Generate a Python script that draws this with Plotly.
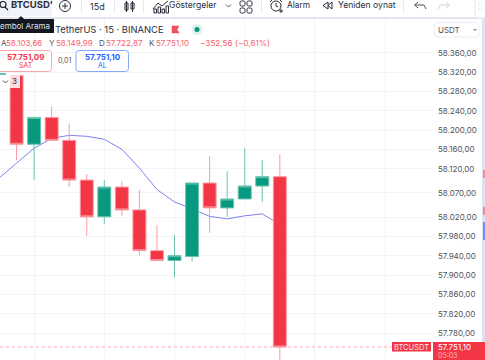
import plotly.graph_objects as go

W, H = 485, 360

# ---- data ----
bar_index = list(range(17))
open_ = [58300, 58312.7, 58170.7, 58226.3, 58178.9, 58096.6, 58020.5, 58082.2, 58034.9, 57950.5, 57930,
         57938.2, 58090.5, 58039, 58057.5, 58084.3, 58103.66]
high = [58317, 58312.7, 58226.3, 58248.9, 58213.9, 58109, 58096.6, 58094.6, 58076, 58004, 57983.5,
        58090.5, 58146, 58115, 58162.5, 58137.8, 58149.99]
low = [58300, 58137.8, 58096.6, 58178.9, 58082.2, 57981.4, 58006, 58022.6, 57940.2, 57930, 57895,
       57927.9, 57987.6, 58020.5, 58057.5, 58051.4, 57722.87]
close = [58317, 58170.7, 58226.3, 58178.9, 58096.6, 58020.5, 58082.2, 58034.9, 57950.5, 57930, 57940.2,
         58090.5, 58039, 58057.5, 58084.3, 58103.66, 57751.10]
ma = [58100.7, 58131.6, 58162.5, 58183, 58189.2, 58187.2, 58181, 58160.4, 58121.3, 58077, 58051.4,
      58037, 58021.5, 58016.4, 58022.6, 58026.7, 58004]
tick_values = [58360, 58320, 58280, 58240, 58200, 58160, 58120, 58070, 58020, 57980, 57940, 57900, 57860, 57820, 57780]
tick_labels = ["58.360,00", "58.320,00", "58.280,00", "58.240,00", "58.200,00", "58.160,00", "58.120,00", "58.070,00",
               "58.020,00", "57.980,00", "57.940,00", "57.900,00", "57.860,00", "57.820,00", "57.780,00"]
x_grid = [2, 6, 10, 14, 18, 22]
last_price = 57751.10

RED, GREEN = "#f23645", "#089981"
FONT = "Inter"
x_range = [0.057, 24.67]
y_range = [57724.2, 58430]

fig = go.Figure()
fig.add_trace(go.Scatter(x=bar_index, y=ma, mode="lines", line=dict(color="#8080f2", width=1),
                         hoverinfo="skip", showlegend=False))
fig.add_trace(go.Candlestick(x=bar_index, open=open_, high=high, low=low, close=close,
                             xaxis="x2", yaxis="y2", whiskerwidth=0, showlegend=False,
                             increasing=dict(line=dict(color="#6cc4ae", width=1), fillcolor=GREEN),
                             decreasing=dict(line=dict(color="#fb9aa3", width=1), fillcolor=RED)))


def px(x):
    return x / W


def py(y):
    return 1 - y / H


shapes = []
annotations = []


def rect(x0, y0, x1, y1, fill=None, line=None, lw=1):
    shapes.append(dict(type="rect", xref="paper", yref="paper", x0=px(x0), x1=px(x1), y0=py(y0), y1=py(y1),
                       fillcolor=fill or "rgba(0,0,0,0)", line=dict(color=line or "rgba(0,0,0,0)", width=lw if line else 0)))


def rrect(x0, y0, x1, y1, r, fill="#ffffff", line=None, lw=1):
    p = (f"M{px(x0 + r)},{py(y0)} L{px(x1 - r)},{py(y0)} Q{px(x1)},{py(y0)} {px(x1)},{py(y0 + r)} "
         f"L{px(x1)},{py(y1 - r)} Q{px(x1)},{py(y1)} {px(x1 - r)},{py(y1)} L{px(x0 + r)},{py(y1)} "
         f"Q{px(x0)},{py(y1)} {px(x0)},{py(y1 - r)} L{px(x0)},{py(y0 + r)} Q{px(x0)},{py(y0)} {px(x0 + r)},{py(y0)} Z")
    shapes.append(dict(type="path", xref="paper", yref="paper", path=p, fillcolor=fill,
                       line=dict(color=line or "rgba(0,0,0,0)", width=lw if line else 0)))


def poly(points, color="#131722", lw=1, fill=None, close_=False):
    p = "M" + " L".join(f"{px(a)},{py(b)}" for a, b in points) + (" Z" if close_ else "")
    shapes.append(dict(type="path", xref="paper", yref="paper", path=p, fillcolor=fill or "rgba(0,0,0,0)",
                       line=dict(color=color, width=lw)))


def circle(cx, cy, r, fill=None, line=None, lw=1):
    shapes.append(dict(type="circle", xref="paper", yref="paper", x0=px(cx - r), x1=px(cx + r), y0=py(cy - r),
                       y1=py(cy + r), fillcolor=fill or "rgba(0,0,0,0)",
                       line=dict(color=line or "rgba(0,0,0,0)", width=lw if line else 0)))


def text(x, y, s, size=8, color="#131722", anchor="left", bold=False):
    annotations.append(dict(xref="paper", yref="paper", x=px(x), y=py(y), text=f"<b>{s}</b>" if bold else s,
                            showarrow=False, xanchor=anchor, yanchor="middle", borderpad=0,
                            font=dict(family=FONT, size=size, color=color)))


# last price dotted line
shapes.append(dict(type="line", xref="x", yref="y", x0=x_range[0], x1=x_range[1], y0=last_price, y1=last_price,
                   line=dict(color="#f8a9b0", width=1, dash="dot"), layer="above"))

# toolbar
rect(0, 0, 485, 17, fill="#ffffff")
rect(0, 17, 485, 19, fill="#e3e6ee")
rect(0, 0, 52, 16, fill="#f0f3fa")
rrect(475, -4, 487, 18, 3, fill="#ffffff", line="#e3e6ee")
for yy in (3, 6, 9):
    for xx in (479, 482):
        circle(xx, yy, 0.6, fill="#c4c7d0")
for xx in (81, 114, 143, 261, 403):
    rect(xx, 1, xx + 1, 13, fill="#e6e8ee")
circle(3, 4.5, 3, line="#131722", lw=1.1)
poly([(5, 7), (8, 10)], lw=1.1)
text(10, 5, "BTCUSD'", size=9.5, bold=True, color="#2a2e39")
circle(65, 6, 5.5, line="#2a2e39")
poly([(65, 3), (65, 9)], color="#2a2e39")
poly([(62, 6), (68, 6)], color="#2a2e39")
text(97, 6, "15d", size=9, color="#2a2e39", anchor="center")
# candle icon
rect(125, 3, 128, 10, line="#2a2e39")
poly([(126.5, 1), (126.5, 12)], color="#2a2e39")
rect(131, 3, 134, 9, line="#2a2e39")
poly([(132.5, 1), (132.5, 12)], color="#2a2e39")
# indicators icon
poly([(153, 9), (158, 3), (162, 6), (168, 1)], color="#2a2e39")
for xa, ya in ((154, 9), (158, 7), (162, 9), (166, 6)):
    rect(xa, ya, xa + 2.5, 13, line="#2a2e39")
text(168, 5.5, "Göstergeler", size=8.6, color="#2a2e39")
poly([(226, 4.5), (228.5, 7), (231, 4.5)], color="#50535e")
# layout icon
for xa in (240, 247):
    for ya in (1, 8):
        rrect(xa, ya, xa + 5, ya + 5, 1.5, fill="rgba(0,0,0,0)", line="#2a2e39")
# alarm icon
circle(276, 6, 5, line="#2a2e39")
poly([(276, 3), (276, 6), (278, 7)], color="#2a2e39")
poly([(270, 2), (272, 0)], color="#2a2e39")
poly([(280, 0), (282, 2)], color="#2a2e39")
poly([(279, 11), (283, 11)], color="#2a2e39")
poly([(281, 9), (281, 13)], color="#2a2e39")
text(286, 5.5, "Alarm", size=8.4, color="#2a2e39")
# replay icon
poly([(328, 2), (323, 5.5), (328, 9), (328, 2)], color="#2a2e39")
poly([(332, 2), (328, 5.5), (332, 9), (332, 2)], color="#2a2e39")
text(337, 5.5, "Yeniden oynat", size=8.6, color="#2a2e39")
# undo / redo
poly([(426, 9), (424, 5), (415, 5)], color="#50535e")
poly([(418, 2), (414.5, 5), (418, 8)], color="#50535e")
poly([(438, 9), (440, 5), (449, 5)], color="#d1d4dc")
poly([(446, 2), (449.5, 5), (446, 8)], color="#d1d4dc")

# tooltip
rect(0, 19, 54, 33, fill="#131722")
poly([(18, 19.5), (21, 16.5), (24, 19.5)], color="#131722", fill="#131722", close_=True)
text(-1, 26, "embol Arama", size=8, color="#dfe1e6")

# legend
text(54, 29.5, "TetherUS · 15 · BINANCE", size=9.4, color="#2a2e39")
poly([(172, 26), (179, 26), (177, 29.5), (179, 33), (172, 33)], color=RED, fill="#f7525f", lw=0.5, close_=True)
circle(197, 29.5, 5.5, fill="#dcf2ec")
circle(197, 29.5, 2.5, fill=GREEN)

ohlc_red = "#f7626e"
text(0, 43, "A", size=8, color="#50535e")
text(5, 43, "58.103,66", size=8, color=ohlc_red)
text(48, 43, "Y", size=8, color="#50535e")
text(54.5, 43, "58.149,99", size=8, color=ohlc_red)
text(98, 43, "D", size=8, color="#50535e")
text(105, 43, "57.722,87", size=8, color=ohlc_red)
text(148, 43, "K", size=8, color="#50535e")
text(155, 43, "57.751,10", size=8, color=ohlc_red)
text(199, 43, "−352,56 (−0,61%)", size=8.2, color=ohlc_red)

# buy / sell
rrect(-3, 50.5, 51.5, 71.5, 3, fill="#ffffff", line="#f7a8af")
text(25.5, 56.5, "57.751,09", size=8, color=RED, anchor="center", bold=True)
text(25.5, 65.5, "SAT", size=7, color=RED, anchor="center")
text(64, 60.5, "0,01", size=7, color="#50535e", anchor="center")
rrect(76, 50.5, 128.5, 71.5, 3, fill="#ffffff", line="#84a9f7")
text(102.5, 56.5, "57.751,10", size=8, color="#2962ff", anchor="center", bold=True)
text(102.5, 65.5, "AL", size=7, color="#2962ff", anchor="center")

# collapsed badge
rect(0, 75, 10, 88, fill="#ffffff")
rect(10, 75, 20, 88, fill="#fbdcdf")
poly([(3, 80.5), (5.5, 83), (8, 80.5)], color="#50535e")
text(14.5, 81.5, "3", size=8, color="#2a2e39", anchor="center")

# currency box
rrect(434.5, 22.5, 479, 37, 2.5, fill="#ffffff", line="#eceef2")
text(437, 29.5, "USDT", size=8, color="#50535e")
poly([(473.5, 29), (475, 30.5), (476.5, 29)], color="#50535e")

# right rim
rect(482, 19, 485, 342, fill="#dfe2f2")
rect(483, 170, 485, 178, fill="#f08a94")
rect(483, 207, 485, 215, fill="#f08a94")
rect(483, 222, 485, 240, fill="#6f8fe8")

# price labels
rect(392, 342, 431, 351.5, fill=RED)
text(411.5, 347, "BTCUSDT", size=7.5, color="#ffe6e8", anchor="center")
rect(433, 342, 485, 360, fill=RED)
text(437, 346.5, "57.751,10", size=8, color="#ffffff")
text(437, 355.5, "05:03", size=7, color="#fbb6bc")

x_dom = [0, 432 / W]
y_dom = [0, 341 / H]
fig.update_layout(
    width=W, height=H, margin=dict(l=0, r=0, t=0, b=0), autosize=False,
    paper_bgcolor="#ffffff", plot_bgcolor="#ffffff", boxgap=0.26, boxgroupgap=0, showlegend=False,
    font=dict(family=FONT, size=8, color="#50535e"), shapes=shapes, annotations=annotations,
    xaxis=dict(domain=x_dom, range=x_range, tickvals=x_grid, showticklabels=False, showgrid=True,
               gridcolor="#f3f4f6", gridwidth=1, zeroline=False, showline=False, ticks=""),
    yaxis=dict(domain=y_dom, range=y_range, side="right", tickvals=tick_values, ticktext=tick_labels,
               showgrid=True, gridcolor="#f3f4f6", gridwidth=1, zeroline=False, showline=False, ticks="",
               ticklabelstandoff=5, tickfont=dict(family=FONT, size=8, color="#50535e"), automargin=False),
    xaxis2=dict(overlaying="x", range=x_range, visible=False, rangeslider=dict(visible=False), anchor="y2"),
    yaxis2=dict(overlaying="y", range=y_range, visible=False, anchor="x2"),
)
fig.update_xaxes(rangeslider_visible=False)

fig.write_html("out.html", config=dict(displayModeBar=False),
               post_script="document.body.style.margin='0';document.body.style.overflow='hidden';")
